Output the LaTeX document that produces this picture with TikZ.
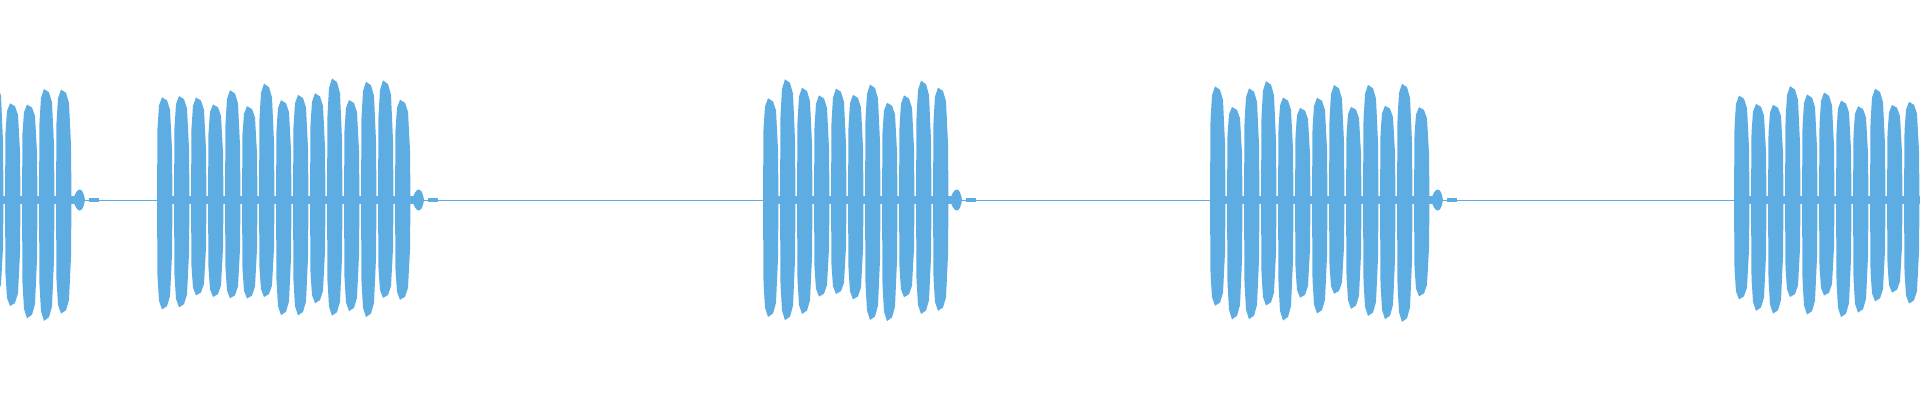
\documentclass[tikz,border=0pt]{standalone}
\definecolor{wave}{RGB}{93,173,226}
\begin{document}
\begin{tikzpicture}[x=1pt,y=1pt,wf/.style={fill=wave,draw=none}]
\useasboundingbox (0,0) rectangle (1920,400);
\pgfmathsetseed{7}
% baseline
\fill[wave] (0,199.5) rectangle (1920,200.5);
% bursts: start/count
\foreach \s/\n in {-12/5, 157/15, 763/11, 1210/13, 1734/11}{
  \pgfmathtruncatemacro{\m}{\n-1}
  \foreach \i in {0,...,\m}{
    \pgfmathsetmacro{\xa}{\s+17*\i}
    \pgfmathsetmacro{\A}{92+30*rnd}
    \pgfmathsetmacro{\B}{92+30*rnd}
    \fill[wave] (\xa,200) -- (\xa+0.5,200+0.7*\A) -- (\xa+2,200+0.92*\A) -- (\xa+5,200+\A)
      -- (\xa+10,200+0.97*\A) -- (\xa+13,200+0.88*\A) -- (\xa+15,200+0.5*\A) -- (\xa+15.5,200)
      -- (\xa+15,200-0.5*\B) -- (\xa+13,200-0.88*\B) -- (\xa+10,200-0.97*\B) -- (\xa+5,200-\B)
      -- (\xa+2,200-0.92*\B) -- (\xa+0.5,200-0.7*\B) -- cycle;
    \fill[wave] (\xa+14,196) rectangle (\xa+18,204);
  }
  \pgfmathsetmacro{\e}{\s+17*\n}
  \fill[wave] (\e,200) .. controls (\e+4,214) and (\e+10,214) .. (\e+12,200)
     .. controls (\e+10,186) and (\e+4,186) .. (\e,200);
  \fill[wave] (\e+16,198) rectangle (\e+26,202);
}
\end{tikzpicture}
\end{document}
